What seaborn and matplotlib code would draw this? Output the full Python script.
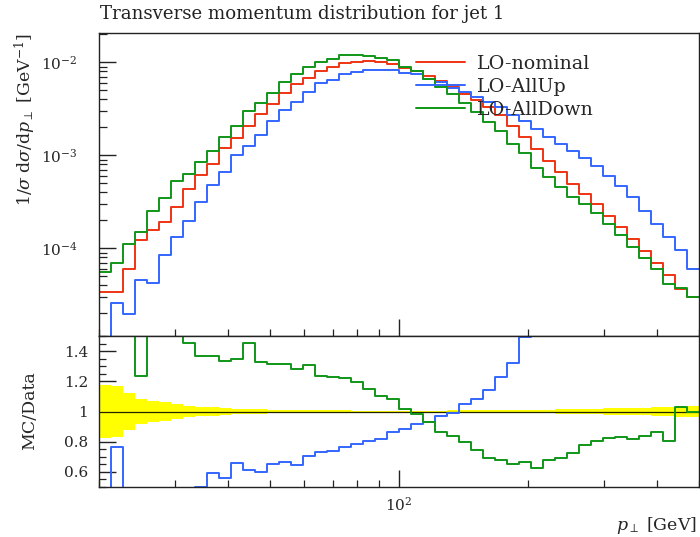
import numpy as np
import pandas as pd
import matplotlib
matplotlib.use("Agg")
import matplotlib.pyplot as plt
import seaborn as sns
from matplotlib.lines import Line2D
from matplotlib.ticker import (LogLocator, MultipleLocator, NullFormatter,
                               LogFormatterSciNotation, FuncFormatter)

# ---------------- data ----------------
pt_low, pt_high, n_bins = 20.0, 500.0, 50
bin_edges = np.geomspace(pt_low, pt_high, n_bins + 1)

series_names = ["LO-nominal", "LO-AllUp", "LO-AllDown"]
series_colors = ["#EE3311", "#3366FF", "#109618"]

lo_nominal = [
    3.37e-5, 3.42e-5, 5.94e-5, 1.225e-4, 1.567e-4, 1.91e-4, 2.82e-4, 4.39e-4, 6.21e-4, 8.09e-4,
    1.189e-3, 1.549e-3, 2.05e-3, 2.78e-3, 3.59e-3, 4.71e-3, 5.88e-3, 6.87e-3, 8.17e-3, 8.88e-3,
    9.79e-3, 1.012e-2, 1.03e-2, 1.02e-2, 9.71e-3, 8.67e-3, 8.11e-3, 7.16e-3, 6.33e-3, 5.42e-3,
    4.56e-3, 3.96e-3, 3.28e-3, 2.69e-3, 2.05e-3, 1.57e-3, 1.17e-3, 8.62e-4, 6.57e-4, 4.97e-4,
    3.85e-4, 3.03e-4, 2.25e-4, 1.70e-4, 1.27e-4, 9.49e-5, 6.89e-5, 5.12e-5, 3.62e-5, 3.00e-5]

lo_allup = [
    8.0e-6, 2.61e-5, 1.99e-5, 4.53e-5, 4.20e-5, 8.40e-5, 1.33e-4, 1.96e-4, 3.12e-4, 4.82e-4,
    6.66e-4, 1.016e-3, 1.253e-3, 1.657e-3, 2.34e-3, 3.12e-3, 3.80e-3, 4.86e-3, 5.97e-3, 6.55e-3,
    7.46e-3, 7.96e-3, 8.31e-3, 8.32e-3, 8.37e-3, 7.69e-3, 7.43e-3, 6.64e-3, 6.13e-3, 5.38e-3,
    4.78e-3, 4.30e-3, 3.74e-3, 3.31e-3, 2.71e-3, 2.34e-3, 1.93e-3, 1.57e-3, 1.33e-3, 1.12e-3,
    9.38e-4, 7.62e-4, 6.05e-4, 4.65e-4, 3.57e-4, 2.51e-4, 1.85e-4, 1.33e-4, 9.73e-5, 6.08e-5]

lo_alldown = [
    5.56e-5, 6.89e-5, 1.12e-4, 1.51e-4, 2.55e-4, 3.49e-4, 5.36e-4, 6.38e-4, 8.50e-4, 1.108e-3,
    1.585e-3, 2.087e-3, 2.975e-3, 3.69e-3, 4.72e-3, 6.20e-3, 7.53e-3, 8.99e-3, 1.011e-2, 1.090e-2,
    1.194e-2, 1.207e-2, 1.186e-2, 1.124e-2, 1.051e-2, 8.83e-3, 8.00e-3, 6.68e-3, 5.49e-3, 4.54e-3,
    3.65e-3, 2.94e-3, 2.28e-3, 1.82e-3, 1.34e-3, 1.05e-3, 7.36e-4, 5.84e-4, 4.53e-4, 3.59e-4,
    2.99e-4, 2.43e-4, 1.85e-4, 1.41e-4, 1.04e-4, 7.95e-5, 5.97e-5, 4.12e-5, 3.73e-5, 2.99e-5]

# relative half-width of the reference (yellow) band in the ratio panel
ref_rel_unc = [
    0.175, 0.168, 0.120, 0.080, 0.069, 0.062, 0.047, 0.038, 0.031, 0.027,
    0.022, 0.019, 0.016, 0.014, 0.012, 0.011, 0.010, 0.009, 0.008, 0.007,
    0.007, 0.006, 0.006, 0.006, 0.006, 0.006, 0.006, 0.006, 0.006, 0.007,
    0.007, 0.008, 0.008, 0.009, 0.010, 0.011, 0.012, 0.013, 0.014, 0.015,
    0.017, 0.018, 0.020, 0.022, 0.024, 0.026, 0.028, 0.031, 0.034, 0.037]

title = "Transverse momentum distribution for jet 1"
ylabel_main = r"$1/\sigma\;\mathrm{d}\sigma/\mathrm{d}p_\perp$ [GeV$^{-1}$]"
ylabel_ratio = "MC/Data"
xlabel = r"$p_\perp$ [GeV]"

# ---------------- style ----------------
sns.set_theme(style="ticks")
plt.rcParams.update({
    "font.family": ["DejaVu Serif"],
    "mathtext.fontset": "dejavuserif",
    "axes.linewidth": 1.0,
    "axes.edgecolor": "#222222",
    "axes.facecolor": "white",
    "figure.facecolor": "white",
})

fig = plt.figure(figsize=(7.0, 5.37), dpi=100)
W, H = 700.0, 537.0
ax = fig.add_axes([99 / W, 1 - 336 / H, 600 / W, (336 - 33) / H])
rax = fig.add_axes([99 / W, 1 - 487 / H, 600 / W, (487 - 336) / H])

for a in (ax, rax):
    a.set_xscale("log")
    a.set_xlim(pt_low, pt_high)
    for s in ("top", "right", "left", "bottom"):
        a.spines[s].set_visible(True)
ax.set_yscale("log")
ax.set_ylim(1.143e-5, 2.075e-2)
rax.set_ylim(0.5, 1.5)


def stepped(values):
    v = np.asarray(values, dtype=float)
    return np.append(v, v[-1])


# main panel
rows = []
for name, vals in zip(series_names, [lo_nominal, lo_allup, lo_alldown]):
    rows.append(pd.DataFrame({"pt": bin_edges, "val": stepped(vals), "series": name}))
df = pd.concat(rows, ignore_index=True)
sns.lineplot(data=df, x="pt", y="val", hue="series", hue_order=series_names,
             palette=series_colors, drawstyle="steps-post", estimator=None,
             sort=False, lw=1.4, ax=ax, legend=False)

# ratio panel
nom = np.asarray(lo_nominal)
unc = stepped(ref_rel_unc)
rax.fill_between(bin_edges, 1 - unc, 1 + unc, step="post", color="#FFFF00", lw=0, zorder=1)
rrows = []
for name, vals in zip(series_names, [lo_nominal, lo_allup, lo_alldown]):
    rrows.append(pd.DataFrame({"pt": bin_edges, "ratio": stepped(np.asarray(vals) / nom),
                               "series": name}))
rdf = pd.concat(rrows, ignore_index=True)
sns.lineplot(data=rdf[rdf.series == "LO-nominal"], x="pt", y="ratio", color="#222200",
             drawstyle="steps-post", estimator=None, sort=False, lw=0.9, ax=rax, legend=False)
sns.lineplot(data=rdf[rdf.series != "LO-nominal"], x="pt", y="ratio", hue="series",
             hue_order=series_names[1:], palette=series_colors[1:], drawstyle="steps-post",
             estimator=None, sort=False, lw=1.4, ax=rax, legend=False)

# ticks
for a in (ax, rax):
    a.set_xlabel("")
    a.set_ylabel("")
    a.xaxis.set_major_locator(LogLocator(base=10, numticks=10))
    a.xaxis.set_minor_locator(LogLocator(base=10, subs=np.arange(2, 10), numticks=20))
    a.xaxis.set_minor_formatter(NullFormatter())
    a.tick_params(axis="x", which="major", direction="in", length=12, width=1.0,
                  top=False, bottom=True, labelsize=11, pad=6.5, color="#222222")
    a.tick_params(axis="x", which="minor", direction="in", length=5, width=0.9,
                  top=False, bottom=True, color="#222222")
ax.tick_params(axis="x", labelbottom=False)
rax.xaxis.set_major_formatter(LogFormatterSciNotation())

ax.yaxis.set_major_locator(LogLocator(base=10, numticks=12))
ax.yaxis.set_minor_locator(LogLocator(base=10, subs=np.arange(2, 10), numticks=20))
ax.yaxis.set_minor_formatter(NullFormatter())
ax.yaxis.set_major_formatter(LogFormatterSciNotation())
ax.tick_params(axis="y", which="major", direction="in", length=12, width=1.0,
               left=True, right=False, labelsize=11, pad=15.5, color="#222222")
ax.tick_params(axis="y", which="minor", direction="in", length=6, width=0.9,
               left=True, right=False, color="#222222")

rax.yaxis.set_major_locator(MultipleLocator(0.2))
rax.yaxis.set_minor_locator(MultipleLocator(0.05))
rax.yaxis.set_major_formatter(FuncFormatter(lambda v, p: f"{v:g}"))
rax.tick_params(axis="y", which="major", direction="in", length=12, width=1.0,
                left=True, right=False, labelsize=11, pad=8, color="#222222")
rax.tick_params(axis="y", which="minor", direction="in", length=5, width=0.9,
                left=True, right=False, color="#222222")

# legend
handles = [Line2D([], [], color=c, lw=1.4) for c in series_colors]
ax.legend(handles, series_names, loc="upper left", bbox_to_anchor=(416 / W, 1 - 55 / H),
          bbox_transform=fig.transFigure, frameon=False, fontsize=13.7,
          handlelength=2.55, handletextpad=0.62, labelspacing=0.26, borderpad=0,
          borderaxespad=0)

# texts
fig.text(100 / W, 1 - 19 / H, title, ha="left", va="baseline", fontsize=13.1, color="#222222")
fig.text(25 / W, 1 - 33 / H, ylabel_main, rotation=90, ha="center", va="top", fontsize=12.5)
fig.text(30 / W, 1 - 411 / H, ylabel_ratio, rotation=90, ha="center", va="center", fontsize=12.5)
fig.text(697 / W, 1 - 525 / H, xlabel, ha="right", va="center", fontsize=12.5)

fig.savefig("out.png", dpi=100)
